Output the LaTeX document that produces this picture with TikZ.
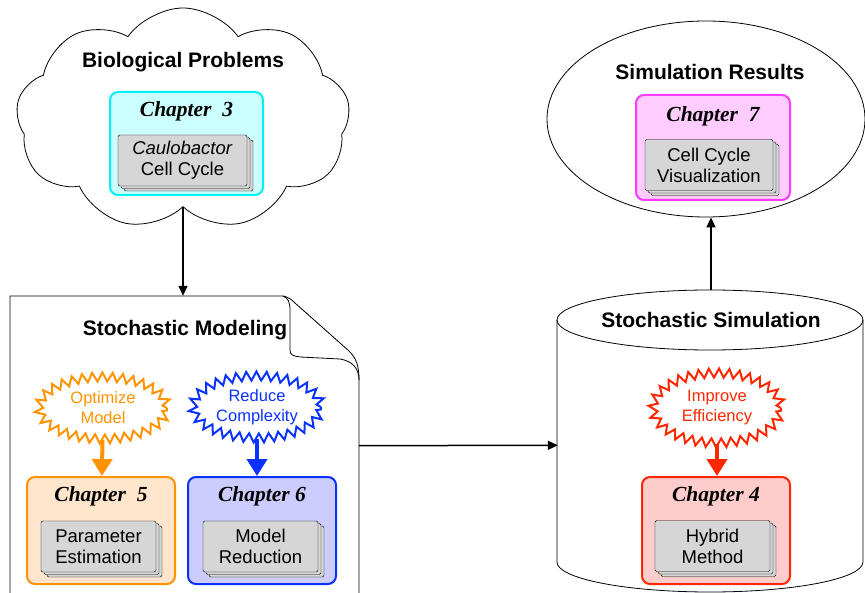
\documentclass[tikz,border=0pt]{standalone}
\usepackage{fontspec}
\setmainfont{Liberation Sans}
\newfontfamily\chapfont{Liberation Serif}
\usetikzlibrary{positioning,arrows.meta,shapes.geometric,shapes.symbols,shadows,decorations.pathmorphing}
\definecolor{bioC}{RGB}{0,240,250}
\definecolor{bioL}{RGB}{204,255,255}
\definecolor{resC}{RGB}{250,60,250}
\definecolor{resL}{RGB}{255,204,255}
\definecolor{optC}{RGB}{255,147,0}
\definecolor{optL}{RGB}{255,229,204}
\definecolor{redC}{RGB}{10,50,255}
\definecolor{redL}{RGB}{204,204,255}
\definecolor{impC}{RGB}{255,38,0}
\definecolor{impL}{RGB}{255,204,204}
\definecolor{docG}{RGB}{214,214,214}

\begin{document}
\begin{tikzpicture}[x=1pt, y=-1pt,
    title/.style={font=\fontsize{21}{24}\selectfont\bfseries, inner sep=0pt},
    chapbox/.style={draw, line width=2pt, rounded corners=8pt, minimum width=148pt, minimum height=107pt},
    chaptitle/.style={font=\fontsize{21.5}{24}\selectfont\chapfont\bfseries\itshape, inner sep=0pt},
    docstack/.style={draw, fill=docG, rounded corners=1.5pt, align=center, inner sep=0pt,
                     minimum width=115pt, minimum height=51pt, font=\fontsize{18.5}{21}\selectfont,
                     double copy shadow={shadow xshift=3pt, shadow yshift=-2.5pt, fill=docG, draw}},
    burst/.style={ellipse, line width=2pt, decorate, decoration={zigzag, segment length=10pt, amplitude=4.5pt},
                  minimum width=128pt, minimum height=62pt, inner sep=0pt, align=center,
                  font=\fontsize{16.5}{20}\selectfont},
    arr/.style={-{Triangle[length=10pt,width=9pt]}, line width=1.5pt},
    fatarr/.style={-{Triangle[length=17pt,width=20pt]}, line width=4pt}
  ]
  \useasboundingbox (0,0) rectangle (865,593);
  \clip (0,0) rectangle (865,593);

  % Biological problems
  \node[cloud, draw, cloud puffs=9, cloud puff arc=110, aspect=1.5, line width=0.8pt,
        minimum width=334pt, minimum height=222pt] (bio) at (183,119) {};
  \node[title] (biotxt) at (183,62) {Biological Problems};
  \node[chapbox, draw=bioC, fill=bioL, minimum width=153pt, minimum height=103pt] (ch3) at (186.5,143.5) {};
  \node[chaptitle, below=10pt of ch3.north] (ch3t) {Chapter\ \ 3};
  \node[docstack, minimum width=129pt] (ch3d) at (182.5,160.5) {\textit{Caulobactor}\\Cell Cycle};

  % Simulation results
  \node[ellipse, draw, line width=0.8pt, minimum width=318pt, minimum height=196pt] (res) at (706,119) {};
  \node[title] (restxt) at (710,72) {Simulation Results};
  \node[chapbox, draw=resC, fill=resL, minimum width=154pt, minimum height=105pt] (ch7) at (713,147.5) {};
  \node[chaptitle, below=12pt of ch7.north] (ch7t) {Chapter\ \ 7};
  \node[docstack, minimum width=128pt] (ch7d) at (709,165) {Cell Cycle\\Visualization};

  % Stochastic modeling (page with curled corner)
  \node[minimum width=349pt, minimum height=300pt] (model) at (184.5,446) {};
  \draw[line width=0.8pt] (10,600) -- (10,296) -- (283,296)
    .. controls (288,297) and (291,299) .. (295,303) -- (349,351)
    .. controls (356,358) and (359,365) .. (359,380) -- (359,600);
  \draw[line width=0.8pt] (283,296) .. controls (288,298) and (290,302) .. (290,310) -- (290,350)
    .. controls (290,355) and (293,356) .. (300,357) -- (340,359)
    .. controls (352,361) and (359,368) .. (359,380);
  \node[title] (modeltxt) at (185,330) {Stochastic Modeling};

  \node[burst, draw=optC, text=optC] (opt) at (103,408) {Optimize\\Model};
  \node[burst, draw=redC, text=redC] (red) at (257,407) {Reduce\\Complexity};
  \node[chapbox, draw=optC, fill=optL] (ch5) at (101,530.5) {};
  \node[chaptitle, below=10pt of ch5.north] (ch5t) {Chapter\ \ 5};
  \node[docstack] (ch5d) at (98.5,546.5) {Parameter\\Estimation};
  \node[chapbox, draw=redC, fill=redL] (ch6) at (262,530.5) {};
  \node[chaptitle, below=10pt of ch6.north] (ch6t) {Chapter 6};
  \node[docstack] (ch6d) at (260.5,546.5) {Model\\Reduction};

  % Stochastic simulation (cylinder)
  \node[minimum width=306pt, minimum height=310pt] (sim) at (711,445) {};
  \draw[line width=0.8pt] (557,320) -- (557,562) arc[start angle=180, end angle=0, x radius=153, y radius=30] -- (863,320);
  \draw[line width=0.8pt] (710,320) ellipse[x radius=153, y radius=30];
  \node[title] (simtxt) at (711,320) {Stochastic Simulation};

  \node[burst, draw=impC, text=impC, minimum height=70pt] (imp) at (717,408) {Improve\\Efficiency};
  \node[chapbox, draw=impC, fill=impL] (ch4) at (716,530.5) {};
  \node[chaptitle, below=10pt of ch4.north] (ch4t) {Chapter 4};
  \node[docstack] (ch4d) at (712.5,546) {Hybrid\\Method};

  % connectors
  \draw[arr] (bio.south) -- (bio.south |- model.north);
  \draw[arr] (model) -- (sim);
  \draw[arr] (sim.north) -- (sim.north |- res.south);
  \draw[fatarr, optC] (opt) -- (ch5);
  \draw[fatarr, redC] (red) -- (red |- ch6.north);
  \draw[fatarr, impC] (imp) -- (imp |- ch4.north);
\end{tikzpicture}
\end{document}
